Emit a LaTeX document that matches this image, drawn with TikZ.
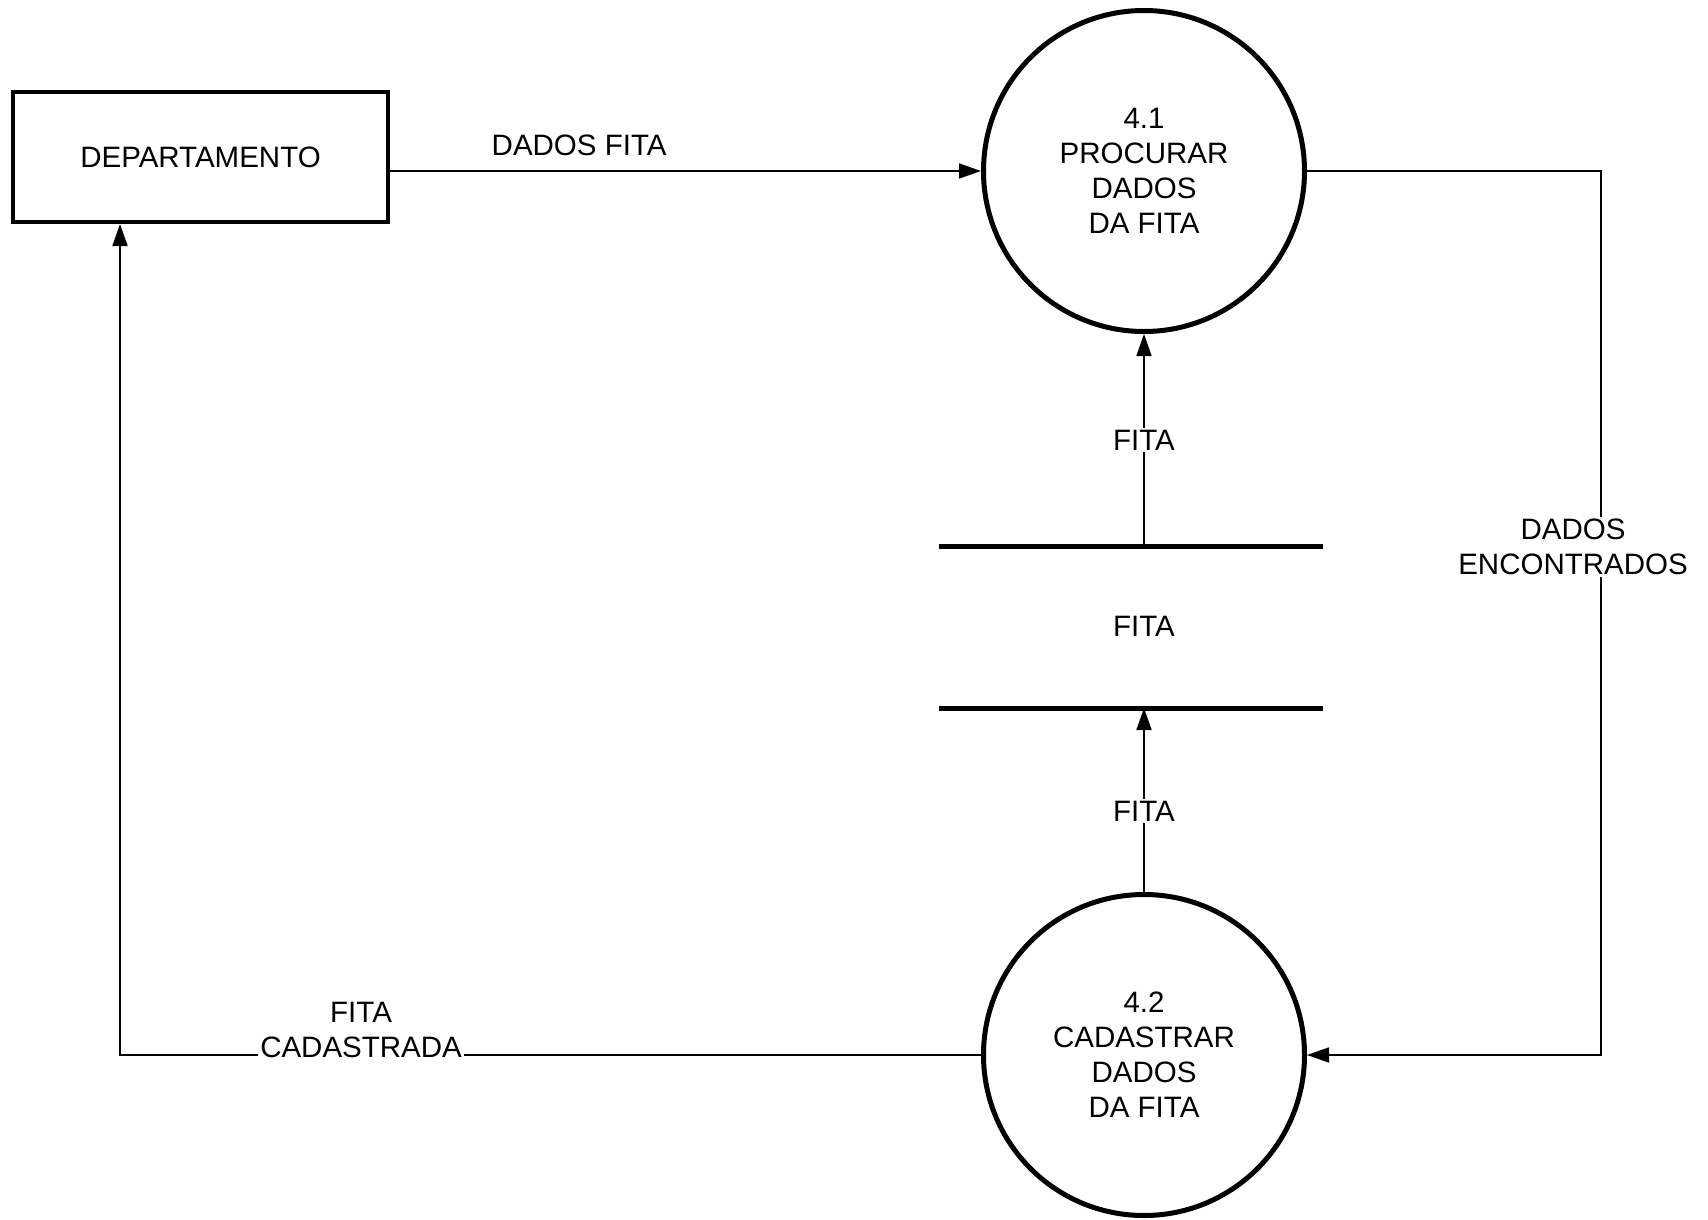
\documentclass[tikz,border=0pt]{standalone}
\usepackage{fontspec}
\setmainfont{Liberation Sans}
\usetikzlibrary{arrows.meta}

\tikzset{
  flow/.style={line width=1.6pt, -{Triangle[length=22pt,width=15pt]}},
  procnode/.style={circle, draw, line width=5pt, minimum size=321pt, inner sep=0pt, align=center},
  extnode/.style={draw, line width=4pt, minimum width=375pt, minimum height=130pt},
  lbl/.style={fill=white, inner sep=2pt, align=center},
}

\begin{document}
\begin{tikzpicture}[x=1pt, y=-1pt, font=\fontsize{29.5}{35}\selectfont]

    \useasboundingbox (0,0) rectangle (1708,1219);

    % entidade externa e processos
    \node[extnode] (dep) at (200.5,157) {DEPARTAMENTO};
    \node[procnode] (p1) at (1144,171) {4.1\\PROCURAR\\DADOS\\DA FITA};
    \node[procnode] (p2) at (1144,1055) {4.2\\CADASTRAR\\DADOS\\DA FITA};

    % deposito de dados
    \draw[line width=5pt] (939,546) -- (1323,546);
    \draw[line width=5pt] (939,708) -- (1323,708);
    \coordinate (stTop) at (1144,546);
    \coordinate (stBot) at (1144,708);
    \node (st) at (1144,626) {FITA};

    \coordinate (rc) at (1601,0);
    \coordinate (lc) at (120,0);

    % fluxos
    \draw[flow] (dep.east |- p1.west) -- (p1.west)
        node[pos=0.32, above=14pt, inner sep=0pt] {DADOS FITA};

    \draw[flow] (stTop) -- (p1.south) node[lbl, midway] {FITA};
    \draw[flow] (p2.north) -- (stBot) node[lbl, pos=0.44] {FITA};

    \draw[flow] (p1.east) -- (p1.east -| rc) -- (p2.east -| rc)
        node[lbl, pos=0.425, xshift=-28pt] {DADOS\\ENCONTRADOS} -- (p2.east);

    \draw[flow] (p2.west) -- (p2.west -| lc)
        node[lbl, pos=0.72, yshift=25pt] {FITA\\CADASTRADA} -- (dep.south -| lc);

\end{tikzpicture}
\end{document}
